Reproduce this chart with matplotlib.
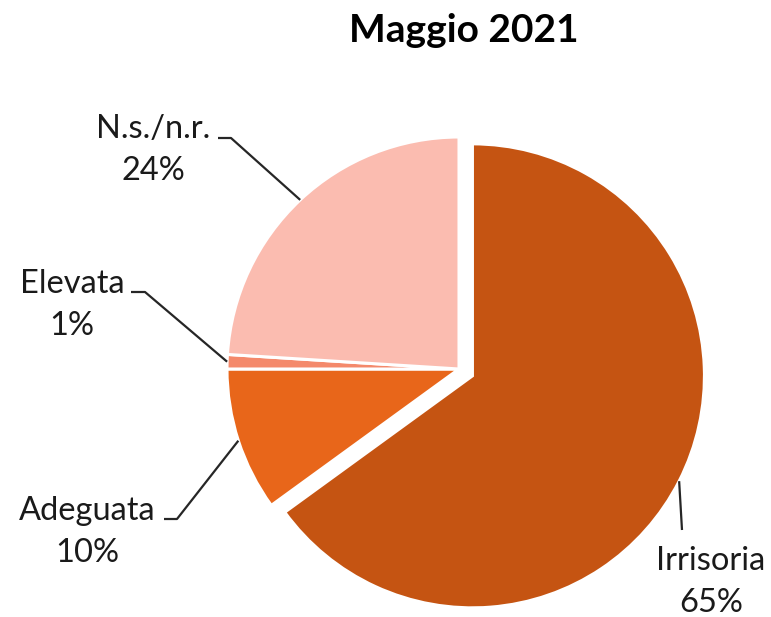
import numpy as np
import matplotlib.pyplot as plt

# Data
TITLE = "Maggio 2021"
labels = ["Irrisoria", "Adeguata", "Elevata", "N.s./n.r."]
values = [65, 10, 1, 24]
colors = ["#C55412", "#E8661A", "#F4896B", "#FBBCB0"]
explode_frac = [0.065, 0, 0, 0]

# Layout (pixels, y measured upward)
W, H = 771, 617
CENTER = (459, 248)
RADIUS = 232
FONT = "Lato"
LABELSIZE = 23.5

# text block centre and elbow/end point of each leader line
label_pos = {
    "Irrisoria": (711, 35),
    "Adeguata": (87, 85),
    "Elevata": (72, 312),
    "N.s./n.r.": (153, 467),
}
elbow_pts = {
    "Irrisoria": [(682, 87)],
    "Adeguata": [(164, 98), (177, 98)],
    "Elevata": [(131, 325), (145, 325)],
    "N.s./n.r.": [(218, 479), (231, 479)],
}

fig = plt.figure(figsize=(W / 100, H / 100), dpi=100)
ax = fig.add_axes([0, 0, 1, 1])

# matplotlib's explode is in data units, not a fraction of the radius
wedges, _ = ax.pie(values, colors=colors,
                   explode=[e * RADIUS for e in explode_frac], startangle=90,
                   counterclock=False, center=CENTER, radius=RADIUS,
                   wedgeprops=dict(edgecolor="white", linewidth=2.2))

# pie() sets its own limits, so override afterwards
ax.set_xlim(0, W)
ax.set_ylim(0, H)
ax.set_aspect("equal")
ax.axis("off")

for w, lab, v in zip(wedges, labels, values):
    mid = np.deg2rad((w.theta1 + w.theta2) / 2)
    cx, cy = w.center
    anchor = (cx + w.r * np.cos(mid), cy + w.r * np.sin(mid))
    pts = elbow_pts[lab] + [anchor]
    ax.plot([p[0] for p in pts], [p[1] for p in pts], color="#262626", lw=1.6,
            solid_capstyle="butt")
    tx, ty = label_pos[lab]
    ax.text(tx, ty, f"{lab}\n{v}%", ha="center", va="center", fontsize=LABELSIZE,
            family=FONT, color="#1a1a1a", linespacing=1.5)

ax.text(464, 587, TITLE, ha="center", va="center", fontsize=28,
        fontweight="bold", family=FONT, color="black")

fig.savefig("out.png", dpi=100)
